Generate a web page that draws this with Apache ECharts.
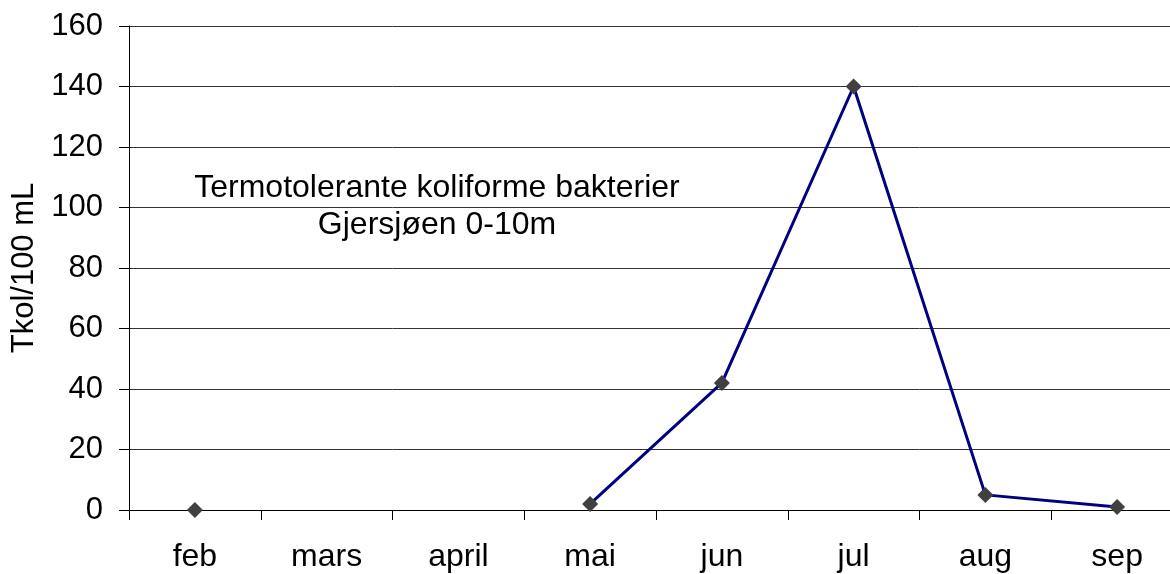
<!DOCTYPE html>
<html>
<head>
<meta charset="utf-8">
<script src="https://cdn.jsdelivr.net/npm/echarts@6/dist/echarts.min.js"></script>
<style>
    html, body { margin: 0; padding: 0; background: #fff; overflow: hidden; }
    /* 图表右边在原图里被裁掉一截，容器故意比窗口宽 */
    #main { width: 1190px; height: 574px; }
</style>
</head>
<body>
<div id="main"></div>
<script>
// 数据
var months = ['feb', 'mars', 'april', 'mai', 'jun', 'jul', 'aug', 'sep'];
var tkolValues = [0, null, null, 2, 42, 140, 5, 1];
var yTicks = [0, 20, 40, 60, 80, 100, 120, 140, 160];

var fontName = '"Liberation Sans", Arial, sans-serif';

var chart = echarts.init(document.getElementById('main'));

var option = {
    backgroundColor: '#fff',
    animation: false,
    grid: {
        left: 129,
        top: 26,
        right: 7,
        bottom: 64
    },
    graphic: [{
        type: 'text',
        x: 437,
        y: 170,
        style: {
            text: 'Termotolerante koliforme bakterier\nGjersjøen 0-10m',
            font: '32px ' + fontName,
            fill: '#000',
            align: 'center',
            lineHeight: 37
        }
    }],
    xAxis: {
        type: 'category',
        data: months,
        boundaryGap: true,
        axisLine: { lineStyle: { color: '#000', width: 1 } },
        axisTick: { show: true, interval: 0, length: 10, lineStyle: { color: '#000' } },
        axisLabel: {
            interval: 0,
            margin: 31,
            color: '#000',
            fontSize: 32,
            fontFamily: fontName
        },
        splitLine: { show: false }
    },
    yAxis: {
        type: 'value',
        min: yTicks[0],
        max: yTicks[yTicks.length - 1],
        interval: 20,
        name: 'Tkol/100 mL',
        nameLocation: 'middle',
        nameRotate: 90,
        nameGap: 84,
        nameTextStyle: { color: '#000', fontSize: 31, fontFamily: fontName },
        axisLine: { show: true, lineStyle: { color: '#000', width: 1 } },
        axisTick: { show: true, length: 10, lineStyle: { color: '#000' } },
        axisLabel: {
            margin: 26,
            color: '#000',
            fontSize: 31,
            fontFamily: fontName
        },
        splitLine: { show: true, lineStyle: { color: '#333', width: 1 } }
    },
    series: [{
        type: 'line',
        data: tkolValues,
        connectNulls: false,
        showSymbol: true,
        showAllSymbol: true,
        symbol: 'diamond',
        symbolSize: 16,
        itemStyle: { color: '#404040' },
        lineStyle: { color: '#000080', width: 3 }
    }]
};

chart.setOption(option);
</script>
</body>
</html>
